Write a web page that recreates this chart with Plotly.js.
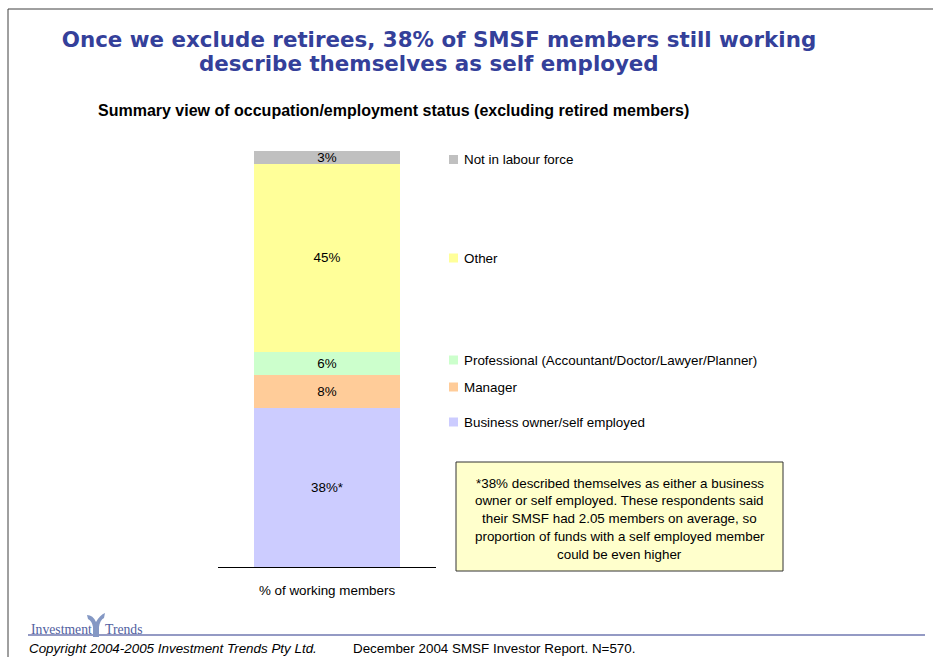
<!DOCTYPE html>
<html><head><meta charset="utf-8">
<script src="https://cdn.plot.ly/plotly-3.0.1.min.js"></script>
<style>html,body{margin:0;padding:0;background:#fff;overflow:hidden}</style>
</head><body><div id="chart" style="width:933px;height:664px"></div>
<script>
// ---- data ----
const category = ['% of working members'];
const seriesNames = ['Business owner/self employed', 'Manager', 'Professional (Accountant/Doctor/Lawyer/Planner)', 'Other', 'Not in labour force'];
const seriesValues = [38.3, 7.9, 5.5, 45.2, 3.1];
const seriesLabels = ['38%*', '8%', '6%', '45%', '3%'];
const seriesColors = ['#CCCCFF', '#FFCC99', '#CCFFCC', '#FFFF99', '#C0C0C0'];
const titleLine1 = 'Once we exclude retirees, 38% of SMSF members still working';
const titleLine2 = 'describe themselves as self employed';
const subtitleText = 'Summary view of occupation/employment status (excluding retired members)';
const noteLines = [
  '*38% described themselves as either a business',
  'owner or self employed. These respondents said',
  'their SMSF had 2.05 members on average, so',
  'proportion of funds with a self employed member',
  'could be even higher'
];
const copyrightText = 'Copyright 2004-2005 Investment Trends Pty Ltd.';
const sourceText = 'December 2004 SMSF Investor Report. N=570.';

// ---- layout helpers (pixel -> paper) ----
const W = 933, H = 664, L = 218, R = 436, T = 151, B = 567;
const px = x => (x - L) / (R - L);
const py = y => (B - y) / (B - T);
const SANS = 'Liberation Sans, Arial, Helvetica, sans-serif';
const FS = 13.4;
const TITLE_FONT = {family: 'DejaVu Sans, Verdana, sans-serif', size: 21.4, color: '#34409A'};

const traces = seriesNames.map((name, i) => ({
  type: 'bar',
  name: name,
  x: category,
  y: [seriesValues[i]],
  text: [seriesLabels[i]],
  textposition: 'inside',
  insidetextanchor: 'middle',
  textangle: 0,
  constraintext: 'none',
  textfont: {family: SANS, size: FS, color: '#000'},
  marker: {color: seriesColors[i], line: {width: 0}},
  width: 0.67,
  showlegend: false,
  hoverinfo: 'skip'
}));

// legend positions (pixel y centres), top-to-bottom order of reference
const legendOrder = [4, 3, 2, 1, 0];
const legendY = [159.5, 258, 360, 387, 422];

const shapes = [];
const annotations = [];

legendOrder.forEach((si, k) => {
  const cy = legendY[k];
  shapes.push({type: 'rect', xref: 'paper', yref: 'paper',
    x0: px(449), x1: px(458), y0: py(cy - 4.5), y1: py(cy + 4.5),
    fillcolor: seriesColors[si], line: {width: 0}});
  annotations.push({xref: 'paper', yref: 'paper', x: px(462), y: py(cy),
    xanchor: 'left', yanchor: 'middle', showarrow: false,
    text: seriesNames[si], font: {family: SANS, size: FS, color: '#000'}});
});

// title line 2
annotations.push({xref: 'paper', yref: 'paper', x: px(429), y: py(63),
  xanchor: 'center', yanchor: 'middle', showarrow: false,
  text: '<b>' + titleLine2 + '</b>', font: TITLE_FONT});

// subtitle
annotations.push({xref: 'paper', yref: 'paper', x: px(96), y: py(110),
  xanchor: 'left', yanchor: 'middle', showarrow: false,
  text: '<b>' + subtitleText + '</b>', font: {family: SANS, size: 16, color: '#000'}});

// note box
shapes.push({type: 'rect', xref: 'paper', yref: 'paper',
  x0: px(456), x1: px(783), y0: py(571), y1: py(462),
  fillcolor: '#FFFFCC', line: {color: '#333333', width: 1}});
noteLines.forEach((ln, k) => {
  annotations.push({xref: 'paper', yref: 'paper', x: px(619.5), y: py(483 + k * 17.8),
    xanchor: 'center', yanchor: 'middle', showarrow: false,
    text: ln, font: {family: SANS, size: FS, color: '#000'}});
});

// page frame
shapes.push({type: 'line', xref: 'paper', yref: 'paper', x0: px(8), x1: px(933), y0: py(9), y1: py(9), line: {color: '#404040', width: 1}});
shapes.push({type: 'line', xref: 'paper', yref: 'paper', x0: px(8), x1: px(8), y0: py(9), y1: py(657), line: {color: '#404040', width: 1}});

// footer line
shapes.push({type: 'line', xref: 'paper', yref: 'paper', x0: px(28), x1: px(925), y0: py(635), y1: py(635), line: {color: '#7078B0', width: 1.5}});

// logo
const SERIF = {family: 'Liberation Serif, Times New Roman, serif', size: 13.7, color: '#5060A0'};
annotations.push({xref: 'paper', yref: 'paper', x: px(29), y: py(629), xanchor: 'left', yanchor: 'middle', showarrow: false,
  text: 'Investment', font: SERIF});
annotations.push({xref: 'paper', yref: 'paper', x: px(103), y: py(629), xanchor: 'left', yanchor: 'middle', showarrow: false,
  text: 'Trends', font: SERIF});
const P = (x, y) => px(x) + ',' + py(y);
shapes.push({type: 'path', xref: 'paper', yref: 'paper',
  path: 'M' + P(87, 615) + ' Q' + P(93, 615) + ' ' + P(96, 622) + ' Q' + P(100, 615) + ' ' + P(105, 613) +
        ' L' + P(104, 618) + ' Q' + P(100, 620) + ' ' + P(99, 627) + ' L' + P(99, 637) + ' L' + P(93, 637) +
        ' L' + P(93, 627) + ' Q' + P(92, 621) + ' ' + P(88, 619) + ' Z',
  fillcolor: '#8498C4', line: {width: 0}});

// copyright + source
annotations.push({xref: 'paper', yref: 'paper', x: px(27), y: py(648), xanchor: 'left', yanchor: 'middle', showarrow: false,
  text: copyrightText, font: {family: SANS, size: FS, color: '#000', style: 'italic'}});
annotations.push({xref: 'paper', yref: 'paper', x: px(351), y: py(648), xanchor: 'left', yanchor: 'middle', showarrow: false,
  text: sourceText, font: {family: SANS, size: FS, color: '#000'}});

const layout = {
  width: W, height: H,
  margin: {l: L, r: W - R, t: T, b: H - B, pad: 0},
  paper_bgcolor: '#FFFFFF', plot_bgcolor: 'rgba(0,0,0,0)',
  barmode: 'stack',
  title: {text: '<b>' + titleLine1 + '</b>', font: TITLE_FONT,
    xref: 'container', yref: 'container', x: 439 / W, y: 1 - 40 / H, xanchor: 'center', yanchor: 'middle'},
  xaxis: {type: 'category', range: [-0.5, 0.5], showline: true, linecolor: '#000', linewidth: 1,
    showgrid: false, zeroline: false, ticks: '', ticklabelstandoff: 11,
    tickfont: {family: SANS, size: FS, color: '#000'}, fixedrange: true},
  yaxis: {range: [0, 100], visible: false, fixedrange: true},
  shapes: shapes,
  annotations: annotations,
  showlegend: false
};

Plotly.newPlot('chart', traces, layout, {displayModeBar: false, staticPlot: true});
</script>
</body></html>
